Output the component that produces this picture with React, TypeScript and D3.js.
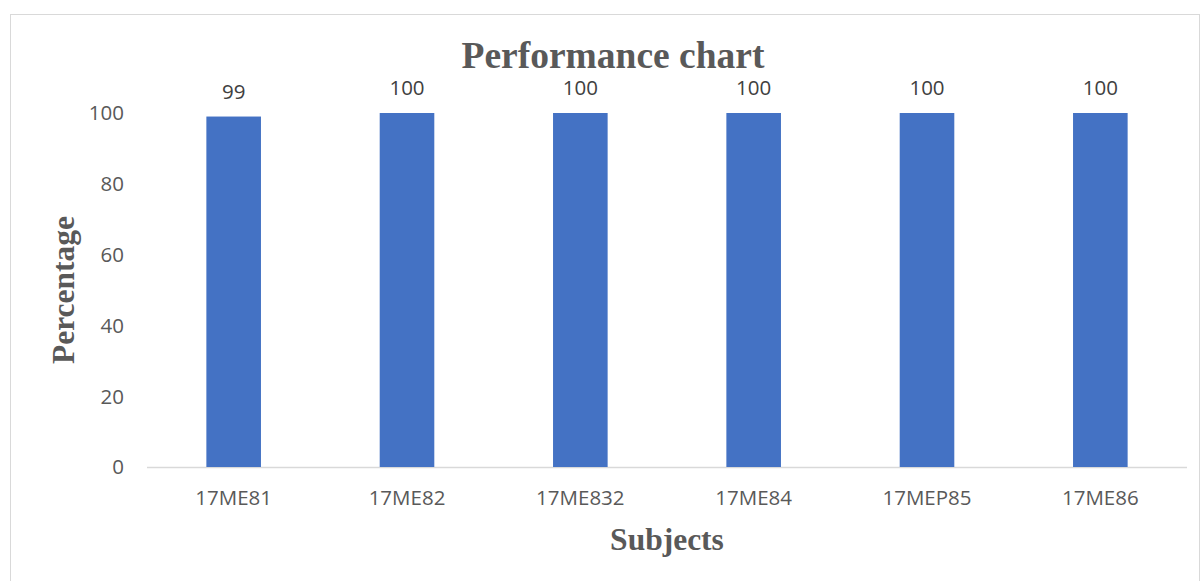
import React from "react";
import * as d3 from "d3";

const categories = ["17ME81", "17ME82", "17ME832", "17ME84", "17MEP85", "17ME86"];
const values = [99, 100, 100, 100, 100, 100];
const yTicks = [0, 20, 40, 60, 80, 100];

const W = 1202;
const H = 581;

export default function App() {
  const x = d3.scaleBand<string>().domain(categories).range([147, 1187]).paddingInner(0.685).paddingOuter(0.3425);
  const y = d3.scaleLinear().domain([0, 100]).range([467, 113]);
  const labelFont = "'Open Sans', 'Noto Sans', sans-serif";
  const serif = "'Liberation Serif', 'Times New Roman', serif";
  const grey = "#595959";
  const fs = 20.5;
  return (
    <svg width={W} height={H} style={{ position: "absolute", left: 0, top: 0, display: "block" }}>
      <rect x={0} y={0} width={W} height={H} fill="#fff" />
      <rect x={10.5} y={14.5} width={1189} height={580} fill="#fff" stroke="#d9d9d9" strokeWidth={1} />
      <text x={613} y={68} textAnchor="middle" fontFamily={serif} fontWeight="bold" fontSize={37.5} fill={grey}>
        Performance chart
      </text>
      {yTicks.map((t) => (
        <text key={t} x={124} y={y(t)} dy="0.36em" textAnchor="end" fontFamily={labelFont} fontSize={fs} fill={grey}>
          {t}
        </text>
      ))}
      <line x1={147} x2={1187} y1={y(0) + 0.5} y2={y(0) + 0.5} stroke="#d9d9d9" strokeWidth={1.5} />
      {categories.map((c, i) => (
        <g key={c}>
          <rect x={x(c)} y={y(values[i])} width={x.bandwidth()} height={y(0) - y(values[i])} fill="#4472c4" />
          <text x={(x(c) as number) + x.bandwidth() / 2} y={y(values[i]) - 18} textAnchor="middle" fontFamily={labelFont} fontSize={fs} fill="#404040">
            {values[i]}
          </text>
          <text x={(x(c) as number) + x.bandwidth() / 2} y={505} textAnchor="middle" fontFamily={labelFont} fontSize={fs} fill={grey}>
            {c}
          </text>
        </g>
      ))}
      <text x={667} y={550} textAnchor="middle" fontFamily={serif} fontWeight="bold" fontSize={31.5} fill={grey}>
        Subjects
      </text>
      <text transform="translate(74,290) rotate(-90)" textAnchor="middle" fontFamily={serif} fontWeight="bold" fontSize={31.5} fill={grey}>
        Percentage
      </text>
    </svg>
  );
}
